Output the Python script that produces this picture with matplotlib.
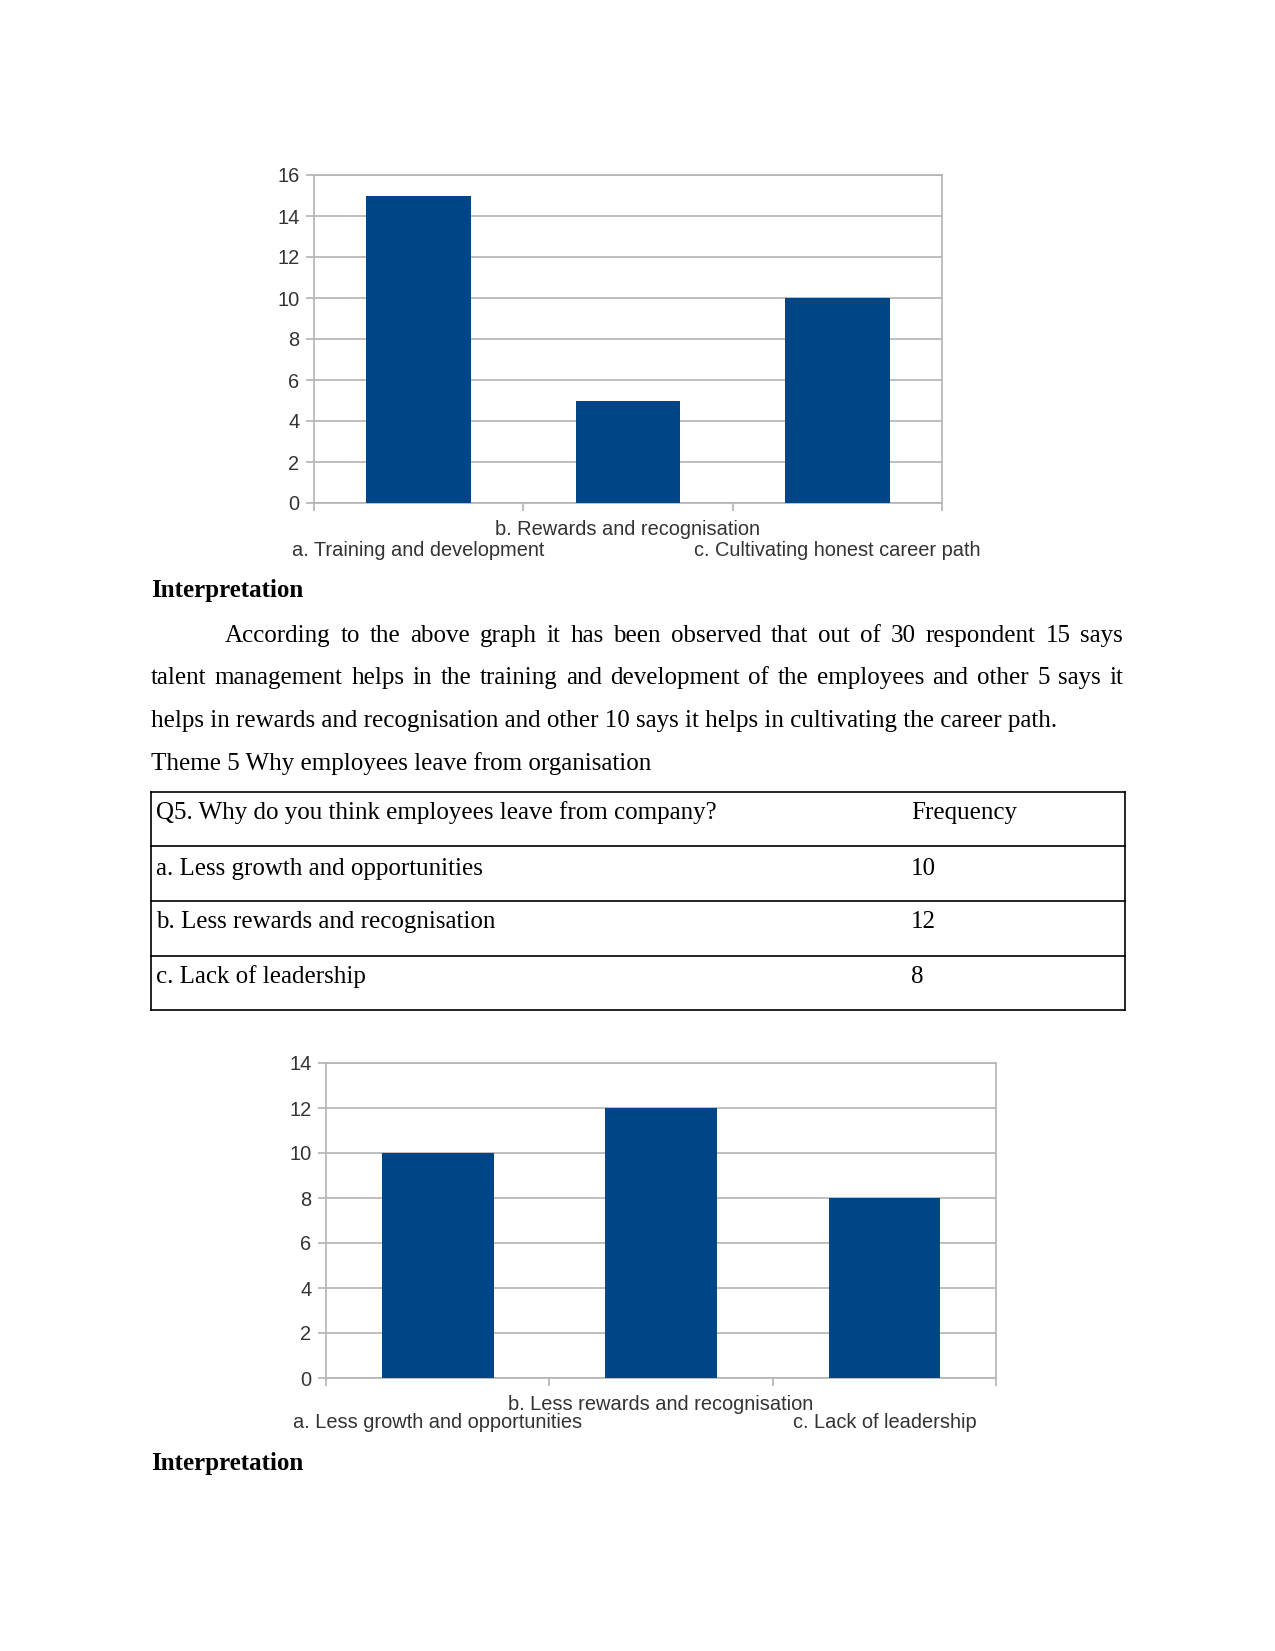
import matplotlib.pyplot as plt

W, H = 1275, 1651
DPI = 150

BLUE = '#004586'
GRID = '#b3b3b3'
LABEL = '#333333'

# Q4 chart (top)
q4_labels = ['a. Training and development',
             'b. Rewards and recognisation',
             'c. Cultivating honest career path']
q4_values = [15, 5, 10]
q4_ymax = 16

# Q5 table + chart (bottom)
q5_question = 'Q5. Why do you think employees leave from company?'
q5_labels = ['a. Less growth and opportunities',
             'b. Less rewards and recognisation',
             'c. Lack of leadership']
q5_values = [10, 12, 8]
q5_ymax = 14

para_lines = [
    'According to the above graph it has been observed that out of 30 respondent 15 says',
    'talent management helps in the training and development of the employees and other 5 says it',
    'helps in rewards and recognisation and other 10 says it helps in cultivating the career path.',
]

plt.rcParams['font.family'] = 'Liberation Sans'
SERIF = dict(family='Liberation Serif', fontsize=12, color='black')
FS = 9.6

fig = plt.figure(figsize=(W / DPI, H / DPI), dpi=DPI)

# page overlay in pixel coordinates
page = fig.add_axes([0, 0, 1, 1])
page.set_xlim(0, W)
page.set_ylim(H, 0)
page.axis('off')


def bar_chart(box, labels, values, ymax, stagger):
    left, top, right, bottom = box
    ax = fig.add_axes([left / W, 1 - bottom / H, (right - left) / W, (bottom - top) / H])
    x = list(range(len(values)))
    ax.bar(x, values, width=0.5, color=BLUE, zorder=3)
    ax.set_xlim(-0.5, len(values) - 0.5)
    ax.set_ylim(0, ymax)
    ax.set_yticks(range(0, ymax + 1, 2))
    ax.yaxis.grid(True, color=GRID, lw=0.8)
    ax.set_axisbelow(True)
    for s in ax.spines.values():
        s.set_color(GRID)
        s.set_linewidth(0.8)
    ax.tick_params(axis='y', length=4, width=0.8, color=GRID, pad=3,
                   labelsize=FS, labelcolor=LABEL)
    # category labels, staggered in two rows
    ax.set_xticks(x)
    ax.set_xticklabels(labels)
    ax.tick_params(axis='x', which='major', length=0, pad=8,
                   labelsize=FS, labelcolor=LABEL)
    for i, tick in enumerate(ax.xaxis.get_major_ticks()):
        if i % 2 == 0:
            tick.set_pad(8 + stagger)
    ax.set_xticks([i - 0.5 for i in range(len(values) + 1)], minor=True)
    ax.tick_params(axis='x', which='minor', length=4, width=0.8, color=GRID)
    return ax


def justify(line, x0, x1, y):
    words = line.split()
    texts = [page.text(0, y, w, va='baseline', **SERIF) for w in words]
    r = fig.canvas.get_renderer()
    widths = [t.get_window_extent(r).width for t in texts]
    gap = (x1 - x0 - sum(widths)) / (len(words) - 1)
    x = x0
    for t, w in zip(texts, widths):
        t.set_x(x)
        x += w + gap


bar_chart((314, 175, 942, 503), q4_labels, q4_values, q4_ymax, 10)

page.text(151, 597, 'Interpretation', va='baseline', fontweight='bold', **SERIF)
justify(para_lines[0], 225, 1123, 642)
justify(para_lines[1], 151, 1123, 684)
page.text(151, 727, para_lines[2], va='baseline', **SERIF)
page.text(151, 770, 'Theme 5 Why employees leave from organisation', va='baseline', **SERIF)

# table
t_left, t_right = 151, 1125
row_lines = [792, 846, 901, 956, 1010]
for y in row_lines:
    page.plot([t_left, t_right], [y, y], color='black', lw=0.8)
page.plot([t_left, t_left], [row_lines[0], row_lines[-1]], color='black', lw=0.8)
page.plot([t_right, t_right], [row_lines[0], row_lines[-1]], color='black', lw=0.8)
rows = [(q5_question, 'Frequency')] + [(l, str(v)) for l, v in zip(q5_labels, q5_values)]
for (a, b), y in zip(rows, [819, 875, 928, 983]):
    page.text(156, y, a, va='baseline', **SERIF)
    page.text(911, y, b, va='baseline', **SERIF)

bar_chart((326, 1063, 996, 1378), q5_labels, q5_values, q5_ymax, 9)

page.text(151, 1470, 'Interpretation', va='baseline', fontweight='bold', **SERIF)

fig.savefig('out.png', dpi=DPI)
